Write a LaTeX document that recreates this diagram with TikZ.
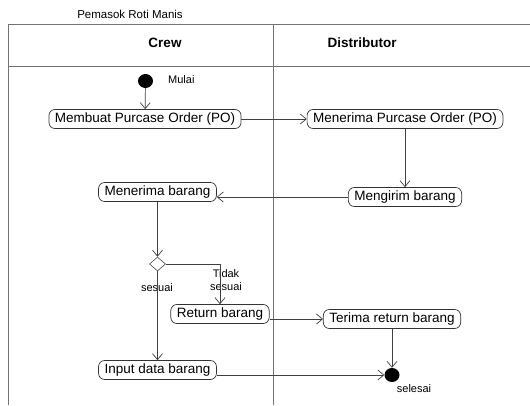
\documentclass[tikz,border=0pt]{standalone}
\usepackage{fontspec}
\setmainfont{Liberation Sans}
\usetikzlibrary{shapes.geometric,arrows.meta}
\begin{document}
\begin{tikzpicture}[x=1pt,y=-1pt,
action/.style ={rectangle, draw=black!80, line width=0.7pt, rounded corners=6pt,
  inner xsep=6pt, inner ysep=2pt, minimum height=19pt,
  font=\fontsize{13.5}{15}\selectfont
},
startnode/.style ={ellipse, fill=black, minimum width=15pt, minimum height=14pt, inner sep=0pt},
decision/.style ={diamond, draw=black!70, line width=0.6pt, minimum width=16pt,
  minimum height=14pt, inner sep=0pt},
lbl/.style ={font=\fontsize{11}{12.5}\selectfont, inner sep=1pt},
lane/.style ={draw=black!55, line width=0.9pt},
flow/.style ={draw=black!75, line width=0.7pt, -{Straight Barb[length=6pt,width=10pt]}}
]
\useasboundingbox (0,0) rectangle (530,405);
% swimlanes
\draw[lane] (8,405) -- (8,24) -- (530,24);
\draw[lane] (8,66) -- (530,66);
\draw[lane] (273,24) -- (273,405);
\node (title) at (130,14) [font=\fontsize{11.5}{13}\selectfont] {Pemasok Roti Manis};
\node (crew) at (165,43) [font=\bfseries\fontsize{13.5}{15}\selectfont] {Crew};
\node (dist) at (362,43) [font=\bfseries\fontsize{13.5}{15}\selectfont] {Distributor};
% nodes
\node (start) at (145.5,81) [startnode] {};
\node (mulai) at (167,80) [lbl, anchor=west] {Mulai};
\node (membuat) at (145,119) [action] {Membuat Purcase Order (PO)};
\node (terimapo) at (405,119) [action] {Menerima Purcase Order (PO)};
\node (kirim) at (405,197) [action] {Mengirim barang};
\node (terimabrg) at (157.5,192) [action] {Menerima barang};
\node (dec) at (157.5,264) [decision] {};
\node (retur) at (220,314) [action] {Return barang};
\node (terimaretur) at (392,319) [action] {Terima return barang};
\node (input) at (157.5,370) [action] {Input data barang};
\node (stop) at (392,375) [startnode] {};
\node (selesai) at (414,389) [lbl] {selesai};
\node (tidak) at (226,280) [lbl, align=center] {Tidak\\sesuai};
\node (sesuai) at (157,288) [lbl] {sesuai};
% flows
\draw[flow] (start) -- (membuat);
\draw[flow] (membuat) -- (terimapo);
\draw[flow] (terimapo) -- (kirim);
\draw[flow] (kirim.west) -- (kirim.west -| terimabrg.east);
\draw[flow] (terimabrg) -- (dec);
\draw[flow] (dec.east) -| (retur.north);
\draw[flow] (dec.south) -- (input.north);
\draw[flow] (retur.east |- terimaretur.west) -- (terimaretur.west);
\draw[flow] (terimaretur) -- (stop);
\draw[flow] (input.east |- stop.west) -- (stop.west);
\end{tikzpicture}
\end{document}
